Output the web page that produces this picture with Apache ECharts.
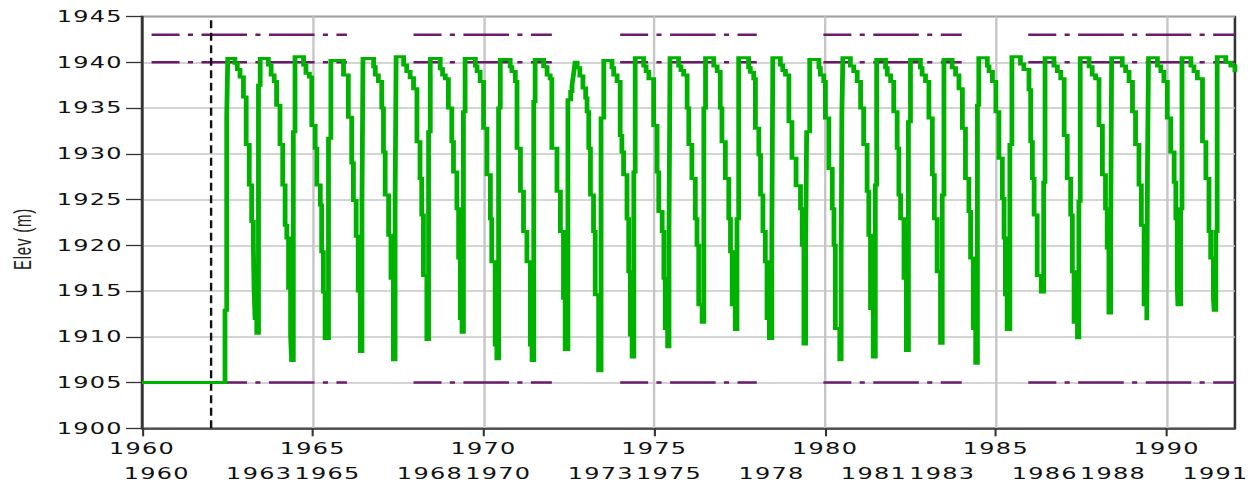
<!DOCTYPE html>
<html>
<head>
<meta charset="utf-8">
<title>Reservoir elevation 1960-1992</title>
<script src="https://cdn.jsdelivr.net/npm/echarts@6/dist/echarts.min.js"></script>
<style>
  html, body { margin: 0; padding: 0; background: #ffffff; overflow: hidden; }
  #wrap { width: 1257px; height: 486px; overflow: hidden; }
  /* the chart is laid out on a narrower canvas and widened to the full page */
  #chart { width: 786px; height: 486px; transform: scaleX(1.59924); transform-origin: 0 0; }
  #chart text { letter-spacing: 0.8px; }
</style>
</head>
<body>
<div id="wrap"><div id="chart"></div></div>
<script>
// ---- axis ticks and labels ----
const mainYearTicks = [1960, 1965, 1970, 1975, 1980, 1985, 1990];
const subYearLabels = [1960, 1963, 1965, 1968, 1970, 1973, 1975, 1978, 1981, 1983, 1986, 1988, 1991];
const subLabelShift = 0.43;           // second label row sits a little after each year
const startMarkerYear = 1962.0;       // dashed vertical marker

// ---- operating rule levels (m) and the periods in which they are drawn ----
const ruleLevels = [1943, 1940, 1905];
const rulePeriods = [[1960.28, 1966.0], [1967.95, 1972.0], [1974.0, 1978.0], [1979.95, 1984.0], [1985.95, 1992.0]];

// ---- simulated pool elevation (decimal year, m), drawn as a step line ----
const stage1960s = [
  [1960.00,1905.0],[1962.43,1912.9],[1962.48,1934.0],[1962.51,1940.4],
  [1962.72,1939.9],[1962.79,1939.2],[1962.87,1938.4],[1962.97,1936.2],[1963.05,1931.0],[1963.14,1926.6],[1963.21,1922.6],[1963.26,1920.0],[1963.28,1915.3],[1963.31,1912.0],[1963.36,1910.4],
  [1963.41,1937.5],[1963.46,1940.4],
  [1963.70,1939.7],[1963.78,1938.6],[1963.87,1937.9],[1963.94,1935.3],[1964.04,1931.0],[1964.12,1926.6],[1964.19,1922.2],[1964.24,1920.8],[1964.29,1915.3],[1964.35,1910.2],[1964.38,1907.4],
  [1964.43,1932.4],[1964.48,1940.6],
  [1964.73,1939.7],[1964.80,1938.8],[1964.90,1938.4],[1964.97,1933.1],[1965.07,1930.6],[1965.12,1926.6],[1965.22,1924.4],[1965.26,1919.3],[1965.31,1914.9],[1965.36,1909.8],
  [1965.46,1931.7],[1965.53,1940.2],
  [1965.90,1938.6],[1966.04,1934.0],[1966.14,1929.0],[1966.19,1924.9],[1966.27,1921.0],[1966.33,1915.0],[1966.39,1908.4],
  [1966.44,1924.6],[1966.47,1940.4],
  [1966.78,1939.5],[1966.83,1938.6],[1966.92,1937.9],[1967.02,1935.0],[1967.07,1930.2],[1967.12,1925.5],[1967.22,1921.1],[1967.29,1916.4],[1967.36,1907.5],
  [1967.41,1924.4],[1967.44,1940.6],
  [1967.66,1939.7],[1967.75,1939.0],[1967.85,1938.3],[1967.95,1937.1],[1968.05,1931.3],[1968.14,1927.3],[1968.19,1923.3],[1968.24,1916.7],[1968.34,1909.7],
  [1968.39,1932.4],[1968.44,1940.4],
  [1968.73,1939.3],[1968.80,1938.6],[1968.88,1938.2],[1968.97,1935.0],[1969.07,1931.3],[1969.12,1928.0],[1969.22,1924.0],[1969.27,1918.6],[1969.32,1912.0],[1969.37,1910.5],
  [1969.41,1934.6],[1969.46,1940.4],
  [1969.76,1939.6],[1969.81,1939.0],[1969.90,1937.9]
];
const stage1970s = [
  [1970.00,1932.8],[1970.10,1927.7],[1970.20,1922.9],[1970.24,1918.2],[1970.34,1909.1],[1970.39,1907.6],
  [1970.44,1935.0],[1970.49,1940.3],
  [1970.78,1939.5],[1970.83,1939.0],[1970.93,1937.9],[1970.98,1930.6],[1971.08,1925.9],[1971.17,1921.5],[1971.27,1918.2],[1971.37,1909.1],[1971.42,1907.4],
  [1971.47,1935.7],[1971.51,1940.3],
  [1971.76,1939.5],[1971.86,1938.6],[1971.95,1938.2],[1972.00,1930.6],[1972.15,1925.9],[1972.25,1921.5],[1972.34,1914.2],[1972.39,1908.6],
  [1972.47,1935.9],[1972.55,1936.8],[1972.59,1937.5],[1972.62,1938.3],[1972.65,1939.1],[1972.68,1940.0],
  [1972.74,1939.4],[1972.82,1938.5],[1972.91,1937.2],[1972.99,1936.1],[1973.03,1934.6],[1973.08,1930.6],[1973.13,1925.5],[1973.22,1921.5],[1973.27,1914.6],[1973.37,1906.3],
  [1973.44,1933.9],[1973.52,1940.2],
  [1973.76,1939.4],[1973.81,1938.6],[1973.91,1937.9],[1974.00,1932.0],[1974.05,1930.2],[1974.10,1927.7],[1974.20,1922.9],[1974.25,1917.1],[1974.30,1910.2],[1974.35,1907.8],
  [1974.40,1928.0],[1974.44,1940.5],
  [1974.69,1939.6],[1974.76,1939.0],[1974.84,1938.2],[1974.98,1933.1],[1975.08,1928.0],[1975.13,1923.7],[1975.23,1921.5],[1975.28,1916.4],[1975.32,1910.9],[1975.39,1908.9],
  [1975.43,1921.5],[1975.46,1940.5],
  [1975.71,1939.6],[1975.78,1939.1],[1975.86,1938.6],[1975.96,1935.0],[1976.01,1931.0],[1976.10,1927.3],[1976.20,1922.9],[1976.25,1920.0],[1976.30,1913.5],[1976.40,1911.6],
  [1976.45,1935.0],[1976.50,1940.5],
  [1976.74,1939.6],[1976.84,1939.0],[1976.93,1935.0],[1976.98,1931.3],[1977.08,1927.3],[1977.18,1922.9],[1977.23,1919.3],[1977.28,1913.5],[1977.37,1910.8],
  [1977.42,1922.9],[1977.47,1940.5],
  [1977.76,1939.4],[1977.81,1938.9],[1977.91,1938.2],[1977.96,1932.8],[1978.06,1929.9],[1978.11,1925.5],[1978.18,1921.5],[1978.25,1918.2],[1978.30,1912.0],[1978.37,1909.8],
  [1978.44,1920.5],[1978.47,1940.5],
  [1978.69,1939.7],[1978.76,1939.1],[1978.84,1938.6],[1978.94,1933.5],[1979.03,1929.5],[1979.15,1926.5],[1979.28,1924.0],[1979.33,1920.0],[1979.38,1909.2],
  [1979.43,1919.5],[1979.46,1932.4],[1979.55,1940.3],
  [1979.82,1939.4],[1979.86,1938.6],[1979.96,1937.9]
];
const stage1980s = [
  [1980.01,1933.9],[1980.11,1928.4],[1980.21,1924.0],[1980.26,1920.0],[1980.30,1910.9],[1980.43,1907.5],
  [1980.47,1918.2],[1980.49,1934.0],[1980.52,1940.5],
  [1980.74,1939.6],[1980.84,1939.0],[1980.94,1937.9],[1981.04,1935.0],[1981.13,1931.0],[1981.23,1925.9],[1981.28,1921.1],[1981.33,1913.1],[1981.41,1907.8],
  [1981.47,1926.6],[1981.51,1940.3],
  [1981.77,1939.4],[1981.82,1938.6],[1981.92,1937.9],[1982.01,1934.6],[1982.11,1930.6],[1982.16,1925.5],[1982.21,1922.9],[1982.31,1916.4],[1982.38,1908.5],
  [1982.44,1933.5],[1982.50,1940.3],
  [1982.79,1939.4],[1982.84,1938.6],[1982.94,1937.9],[1983.04,1933.9],[1983.14,1927.7],[1983.20,1922.9],[1983.28,1917.1],[1983.38,1909.3],
  [1983.43,1925.5],[1983.48,1940.3],
  [1983.72,1939.4],[1983.82,1938.6],[1983.92,1937.1],[1984.02,1932.8],[1984.11,1927.3],[1984.21,1923.7],[1984.26,1918.6],[1984.34,1910.9],[1984.41,1907.1],
  [1984.46,1935.3],[1984.50,1940.5],
  [1984.75,1939.6],[1984.80,1939.0],[1984.90,1937.9],[1985.00,1934.6],[1985.09,1929.5],[1985.19,1925.1],[1985.24,1920.8],[1985.28,1914.6],[1985.33,1910.8],
  [1985.41,1931.0],[1985.47,1940.6],
  [1985.72,1939.8],[1985.82,1939.2],[1985.97,1937.0],[1986.02,1931.3],[1986.07,1927.3],[1986.12,1923.3],[1986.21,1916.7],[1986.33,1914.9],
  [1986.40,1926.9],[1986.44,1940.5],
  [1986.70,1939.6],[1986.80,1939.0],[1986.90,1938.2],[1987.00,1932.0],[1987.09,1927.3],[1987.19,1923.3],[1987.24,1917.1],[1987.29,1911.6],[1987.39,1909.9],
  [1987.43,1924.8],[1987.47,1940.5],
  [1987.73,1939.5],[1987.82,1938.6],[1987.92,1938.2],[1988.02,1933.1],[1988.12,1927.7],[1988.21,1924.0],[1988.26,1919.7],[1988.31,1912.6],
  [1988.36,1919.7],[1988.39,1940.5],
  [1988.70,1939.6],[1988.80,1939.0],[1988.90,1937.9],[1989.00,1934.6],[1989.09,1931.0],[1989.19,1926.6],[1989.26,1922.2],[1989.34,1913.5],[1989.42,1911.8],
  [1989.44,1928.8],[1989.47,1940.5],
  [1989.73,1939.6],[1989.83,1939.0],[1989.92,1937.9]
];
const stage1990s = [
  [1990.02,1933.9],[1990.12,1930.2],[1990.22,1926.9],[1990.27,1922.9],[1990.31,1915.7],[1990.33,1913.5],
  [1990.41,1924.0],[1990.45,1940.5],
  [1990.71,1939.6],[1990.80,1939.0],[1990.90,1938.2],[1991.05,1931.3],[1991.15,1927.3],[1991.24,1921.5],[1991.29,1918.6],[1991.37,1914.2],[1991.39,1912.9],
  [1991.44,1921.5],[1991.48,1940.6],
  [1991.73,1940.0],[1991.88,1939.6],[1992.00,1938.9]
];

// ---- styling ----
const FONT = 'DejaVu Sans';
const INK = '#111111';
const FRAME = '#333333';
const GRID = '#c6c6c6';
const STAGE_GREEN = '#00b200';
const RULE_PURPLE = '#6a1b6a';

// plain year / metre labels, no digit grouping
function plainNumber(v) { return String(Math.round(v)); }

const chart = echarts.init(document.getElementById('chart'), null, { renderer: 'svg' });

// one dash-dot segment per level and period
const ruleSeries = [];
ruleLevels.forEach(function (level) {
  rulePeriods.forEach(function (p) {
    ruleSeries.push({
      type: 'line',
      xAxisIndex: 0,
      yAxisIndex: 0,
      data: [[p[0], level], [p[1], level]],
      symbol: 'none',
      silent: true,
      z: 2,
      lineStyle: { color: RULE_PURPLE, width: 2.5, type: [28.5, 5.2, 3.2, 5.3], dashOffset: 11 }
    });
  });
});

const stageSeries = {
  type: 'line',
  xAxisIndex: 0,
  yAxisIndex: 0,
  step: 'end',
  data: stage1960s.concat(stage1970s, stage1980s, stage1990s),
  symbol: 'none',
  showSymbol: false,
  silent: true,
  z: 4,
  lineStyle: { color: STAGE_GREEN, width: 3, join: 'miter' },
  markLine: {
    silent: true,
    symbol: ['none', 'none'],
    label: { show: false },
    z: 3,
    lineStyle: { color: INK, width: 1.5, type: [8, 4.5] },
    data: [{ xAxis: startMarkerYear }]
  }
};

const labelStyle = { color: INK, fontFamily: FONT, fontSize: 15 };

chart.setOption({
  animation: false,
  backgroundColor: '#ffffff',
  grid: {
    left: 88.8, right: 13.8, top: 16.5, bottom: 57.7,
    show: true, borderColor: FRAME, borderWidth: 1.6, backgroundColor: 'transparent',
    containLabel: false, outerBoundsMode: 'none'
  },
  xAxis: [
    {
      type: 'value', position: 'bottom', min: 1960, max: 1992, interval: 5,
      axisLine: { show: true, lineStyle: { color: FRAME, width: 1.6 } },
      axisTick: { show: true, length: 8, customValues: mainYearTicks, lineStyle: { color: FRAME, width: 1.3 } },
      axisLabel: Object.assign({ customValues: mainYearTicks, margin: 12.5, formatter: plainNumber }, labelStyle),
      splitLine: { show: true, lineStyle: { color: GRID, width: 1.5 } }
    },
    {
      type: 'value', position: 'bottom', offset: 0, min: 1960, max: 1992,
      axisLine: { show: false },
      axisTick: { show: false },
      splitLine: { show: false },
      axisLabel: Object.assign({
        customValues: subYearLabels.map(function (y) { return y + subLabelShift; }),
        formatter: function (v) { return String(Math.round(v - subLabelShift)); },
        margin: 37.5
      }, labelStyle)
    }
  ],
  yAxis: {
    type: 'value', min: 1900, max: 1945, interval: 5,
    axisLine: { show: true, lineStyle: { color: FRAME, width: 1.6 } },
    axisTick: { show: true, length: 10, lineStyle: { color: FRAME, width: 1.3 } },
    axisLabel: Object.assign({ margin: 12, formatter: plainNumber }, labelStyle),
    splitLine: { show: true, lineStyle: { color: GRID, width: 1.5 } }
  },
  graphic: [{
    type: 'text',
    x: 14, y: 239,
    rotation: Math.PI / 2,
    silent: true,
    style: { text: 'Elev (m)', fontSize: 15, fontFamily: 'Liberation Sans', fill: '#222222', align: 'center', verticalAlign: 'middle' }
  }],
  series: ruleSeries.concat([stageSeries])
});
</script>
</body>
</html>
